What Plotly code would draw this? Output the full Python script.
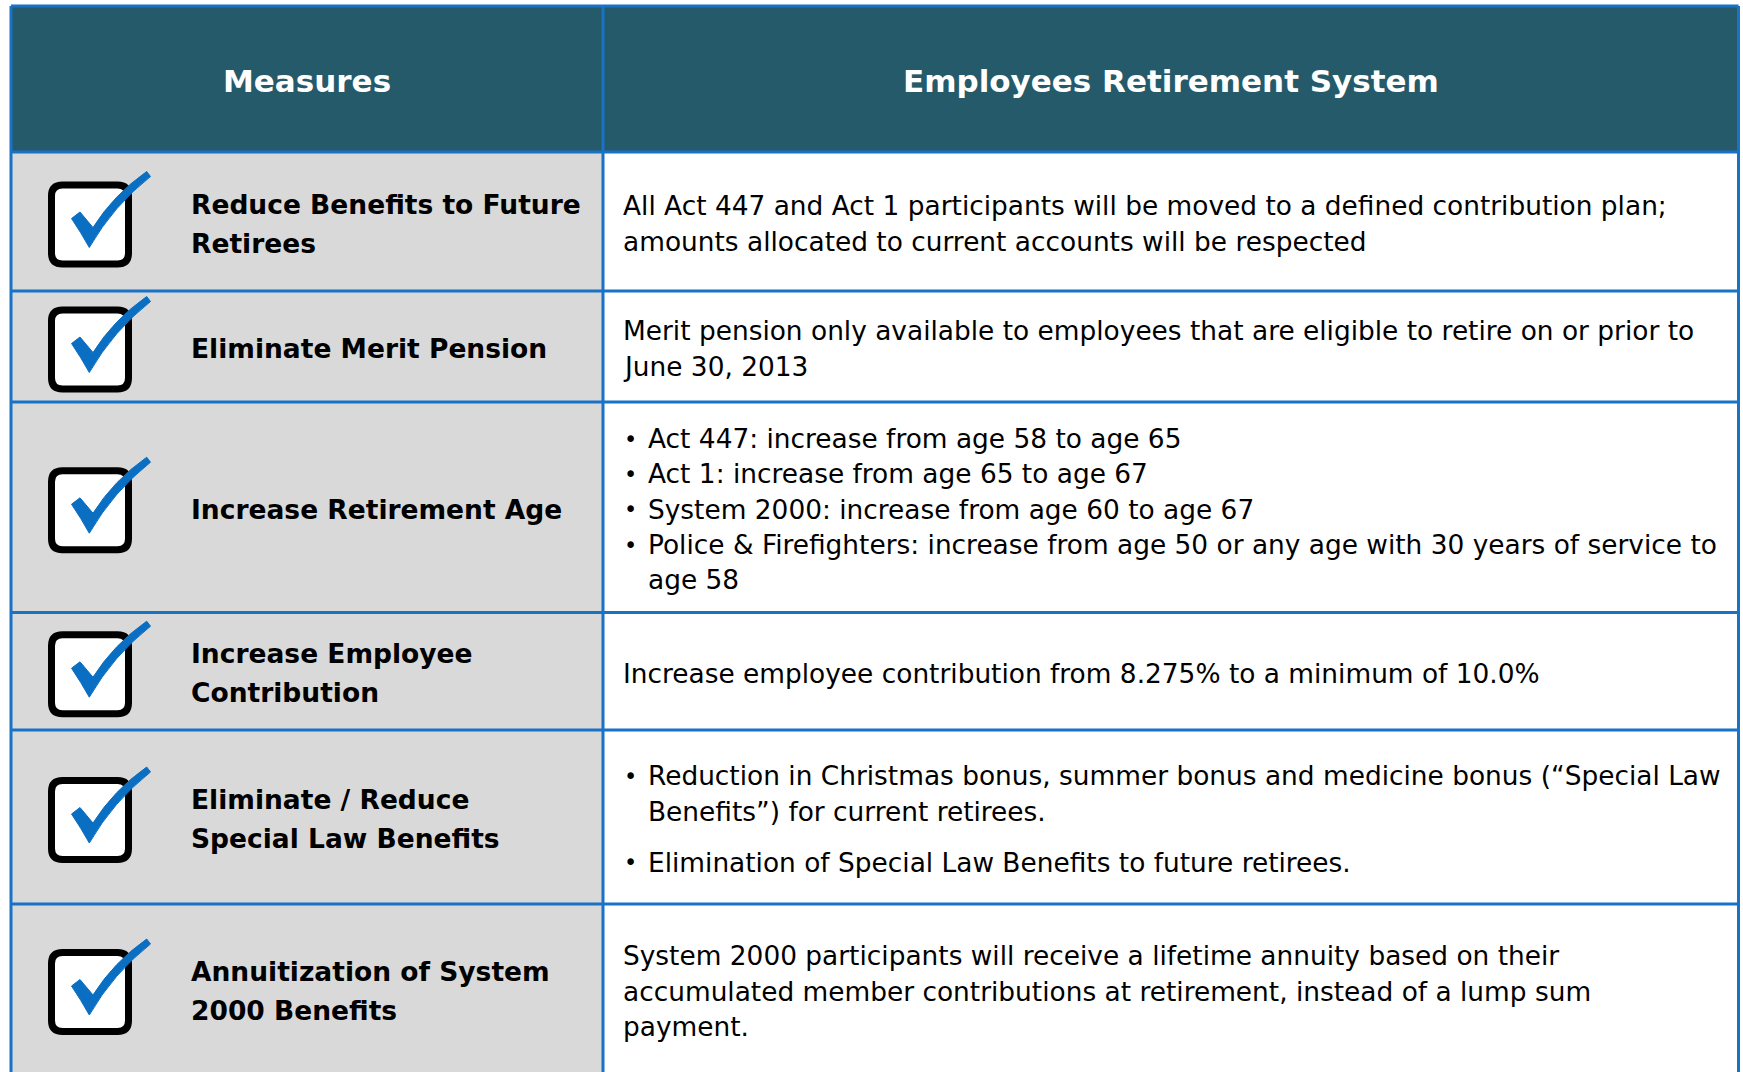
import plotly.graph_objects as go

# ---------------- data ----------------
header_labels = ["Measures", "Employees Retirement System"]
measures = [
    "Reduce Benefits to Future<br>Retirees",
    "Eliminate Merit Pension",
    "Increase Retirement Age",
    "Increase Employee<br>Contribution",
    "Eliminate / Reduce<br>Special Law Benefits",
    "Annuitization of System<br>2000 Benefits",
]
descriptions = [
    ["All Act 447 and Act 1 participants will be moved to a defined contribution plan;<br>amounts allocated to current accounts will be respected"],
    ["Merit pension only available to employees that are eligible to retire on or prior to<br>June 30, 2013"],
    ["• Act 447: increase from age 58 to age 65",
     "• Act 1: increase from age 65 to age 67",
     "• System 2000: increase from age 60 to age 67",
     "• Police & Firefighters: increase from age 50 or any age with 30 years of service to<br>age 58"],
    ["Increase employee contribution from 8.275% to a minimum of 10.0%"],
    ["• Reduction in Christmas bonus, summer bonus and medicine bonus (“Special Law<br>Benefits”) for current retirees.",
     "• Elimination of Special Law Benefits to future retirees."],
    ["System 2000 participants will receive a lifetime annuity based on their<br>accumulated member contributions at retirement, instead of a lump sum<br>payment."],
]

# ---------------- layout constants ----------------
W, H = 1743, 1072
X_LEFT, X_DIV, X_RIGHT = 11, 603, 1738.5
Y_TOP = 6
HEADER_H = 146
ROW_H = [139, 111, 210.5, 117.5, 174, 172]
PARA_GAP = [0, 0, 0, 0, 16, 0]

HEADER_BG = "#245a69"
LEFT_BG = "#d9d9d9"
LINE_C = "#1872c6"
CHECK_C = "#0a6fc2"
FONT = "DejaVu Sans"

BODY_SIZE = 26.4
BODY_LH = 35.3
LEFT_SIZE = 26.5
LEFT_LH = 39
HEAD_SIZE = 31

shapes = []
annotations = []

bounds = [Y_TOP, Y_TOP + HEADER_H]
for h in ROW_H:
    bounds.append(bounds[-1] + h)

shapes.append(dict(type="rect", x0=X_LEFT, x1=X_RIGHT, y0=bounds[0], y1=bounds[1],
                   fillcolor=HEADER_BG, line_width=0, layer="below"))
shapes.append(dict(type="rect", x0=X_LEFT, x1=X_DIV, y0=bounds[1], y1=bounds[-1],
                   fillcolor=LEFT_BG, line_width=0, layer="below"))
shapes.append(dict(type="rect", x0=X_DIV, x1=X_RIGHT, y0=bounds[1], y1=bounds[-1],
                   fillcolor="white", line_width=0, layer="below"))

for b in bounds[:-1]:
    shapes.append(dict(type="line", x0=X_LEFT, x1=X_RIGHT, y0=b, y1=b,
                       line=dict(color=LINE_C, width=3)))
for xv in (X_LEFT, X_DIV, X_RIGHT):
    shapes.append(dict(type="line", x0=xv, x1=xv, y0=Y_TOP, y1=bounds[-1],
                       line=dict(color=LINE_C, width=3)))

hy = (bounds[0] + bounds[1]) / 2 + 2
annotations.append(dict(x=(X_LEFT + X_DIV) / 2, y=hy, text="<b>" + header_labels[0] + "</b>",
                        showarrow=False, xanchor="center", yanchor="middle",
                        font=dict(family=FONT, size=HEAD_SIZE, color="white")))
annotations.append(dict(x=(X_DIV + X_RIGHT) / 2, y=hy, text="<b>" + header_labels[1] + "</b>",
                        showarrow=False, xanchor="center", yanchor="middle",
                        font=dict(family=FONT, size=HEAD_SIZE, color="white")))


def rounded_rect(x0, y0, x1, y1, r):
    return (f"M {x0+r},{y0} L {x1-r},{y0} Q {x1},{y0} {x1},{y0+r} "
            f"L {x1},{y1-r} Q {x1},{y1} {x1-r},{y1} L {x0+r},{y1} "
            f"Q {x0},{y1} {x0},{y1-r} L {x0},{y0+r} Q {x0},{y0} {x0+r},{y0} Z")


def check_path(cx, cy):
    p = lambda dx, dy: f"{cx+dx:.1f},{cy+dy:.1f}"
    return (f"M {p(-18.5,-6)} L {p(-10,-12.5)} L {p(3,3)} "
            f"Q {p(23.5,-29.6)} {p(56.7,-53)} L {p(60.5,-48)} "
            f"Q {p(23.5,-18.9)} {p(-0.7,23)} Q {p(-9,8)} {p(-18.5,-6)} Z")


for i, (m, desc) in enumerate(zip(measures, descriptions)):
    y0, y1 = bounds[i + 1], bounds[i + 2]
    if i == len(measures) - 1:
        cy = (y0 + 1072 + 2) / 2 + 2
    else:
        cy = (y0 + y1) / 2 + 2

    bx, by = 90, cy + 1
    shapes.append(dict(type="path", path=rounded_rect(bx - 38.5, by - 39.5, bx + 38.5, by + 39.5, 11),
                       fillcolor="white", line=dict(color="black", width=7)))
    shapes.append(dict(type="path", path=check_path(bx, by), fillcolor=CHECK_C,
                       line=dict(color=CHECK_C, width=1)))

    mlines = m.split("<br>")
    n = len(mlines)
    for k, t in enumerate(mlines):
        annotations.append(dict(x=189, y=cy + (k - (n - 1) / 2) * LEFT_LH, text="<b>" + t + "</b>",
                                showarrow=False, xanchor="left", yanchor="middle",
                                font=dict(family=FONT, size=LEFT_SIZE, color="black")))

    items = []
    for j, para in enumerate(desc):
        bullet = para.startswith("• ")
        txt = para[2:] if bullet else para
        for k, t in enumerate(txt.split("<br>")):
            items.append((t, bullet and k == 0, bullet, j))
    offsets = []
    pos = 0.0
    last_para = None
    for (t, showb, isb, j) in items:
        if last_para is not None:
            pos += BODY_LH + (PARA_GAP[i] if j != last_para else 0)
        offsets.append(pos)
        last_para = j
    mid = (offsets[0] + offsets[-1]) / 2
    for (t, showb, isb, j), off in zip(items, offsets):
        yy = cy + off - mid
        if showb:
            annotations.append(dict(x=622, y=yy, text="•", showarrow=False, xanchor="left",
                                    yanchor="middle",
                                    font=dict(family=FONT, size=BODY_SIZE - 4, color="black")))
        annotations.append(dict(x=646 if isb else 621, y=yy, text=t, showarrow=False,
                                xanchor="left", yanchor="middle",
                                font=dict(family=FONT, size=BODY_SIZE, color="black")))

fig = go.Figure()
fig.update_layout(
    width=W, height=H,
    margin=dict(l=0, r=0, t=0, b=0),
    paper_bgcolor="white", plot_bgcolor="white",
    xaxis=dict(range=[0, W], visible=False, fixedrange=True),
    yaxis=dict(range=[H, 0], visible=False, fixedrange=True),
    shapes=shapes, annotations=annotations, showlegend=False,
)
fig.write_html("out.html", config={"displayModeBar": False},
               post_script="document.body.style.margin='0';document.body.style.overflow='hidden';")
